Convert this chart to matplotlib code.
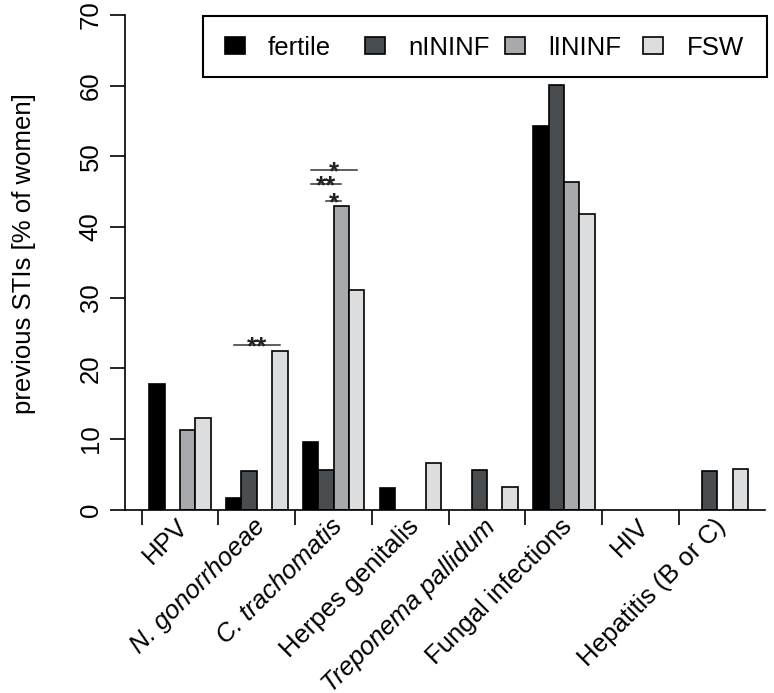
import matplotlib.pyplot as plt
from matplotlib.patches import Rectangle

plt.rcParams['font.family'] = ['Liberation Sans', 'DejaVu Sans']

categories = ["HPV", "N. gonorrhoeae", "C. trachomatis", "Herpes genitalis",
              "Treponema pallidum", "Fungal infections", "HIV", "Hepatitis (B or C)"]
italic_cats = ["N. gonorrhoeae", "C. trachomatis", "Treponema pallidum"]

groups = ["fertile", "nININF", "lININF", "FSW"]
colors = ["#000000", "#4a4d50", "#a7a9ac", "#dcdddf"]

fertile = [17.8, 1.6, 9.5, 3.1, 0.0, 54.3, 0.0, 0.0]
nININF = [0.0, 5.4, 5.6, 0.0, 5.6, 60.1, 0.0, 5.5]
lININF = [11.2, 0.0, 43.0, 0.0, 0.0, 46.3, 0.0, 0.0]
FSW = [12.9, 22.5, 31.1, 6.6, 3.2, 41.9, 0.0, 5.8]
values = [fertile, nININF, lININF, FSW]

# significance brackets: (category index, from group, to group, height, label)
brackets = [
    (1, 0, 3, 23.3, "**"),
    (2, 0, 3, 48.1, "*"),
    (2, 0, 2, 46.1, "**"),
    (2, 1, 2, 43.7, "*"),
]

W, H = 774, 693
fig = plt.figure(figsize=(W / 100, H / 100), dpi=100)
ax = fig.add_axes([125 / W, 1 - 509.5 / H, 640 / W, 494.5 / H])

fs = 18.5
lw = 1.2

def bar_x(ci, gi):
    return 5 * ci + 1 + gi + 0.5

for gi, (name, col) in enumerate(zip(groups, colors)):
    xs = [bar_x(ci, gi) for ci in range(len(categories))]
    vals = values[gi]
    xs_nz = [x for x, v in zip(xs, vals) if v > 0]
    v_nz = [v for v in vals if v > 0]
    ax.bar(xs_nz, v_nz, width=1.0, color=col, edgecolor="black", linewidth=lw, zorder=2)

ax.set_xlim(-0.586, 41.1)
ax.set_ylim(0, 70)

for s in ["top", "right"]:
    ax.spines[s].set_visible(False)
ax.spines["left"].set_linewidth(lw)
ax.spines["bottom"].set_linewidth(lw)
ax.spines["bottom"].set_zorder(3)

ax.set_xticks([5 * ci + 0.5 for ci in range(len(categories))])
ax.set_xticklabels([])
ax.tick_params(axis="x", length=11, width=lw, direction="out")
ax.set_yticks(range(0, 71, 10))
ax.set_yticklabels([str(v) for v in range(0, 71, 10)], rotation=90, va="center", fontsize=fs)
ax.tick_params(axis="y", length=11, width=lw, direction="out", pad=5)

for ci, cat in enumerate(categories):
    style = "italic" if cat in italic_cats else "normal"
    ax.text(5 * ci + 3 + 0.3, -1.9, cat, rotation=45, rotation_mode="anchor",
            ha="right", va="center", fontsize=fs, style=style, clip_on=False)

for ci, g1, g2, y, lab in brackets:
    x1, x2 = bar_x(ci, g1), bar_x(ci, g2)
    ax.plot([x1, x2], [y, y], color="#333333", lw=1.1, zorder=3)
    ax.text((x1 + x2) / 2, y - 1.3, lab, ha="center", va="baseline", fontsize=fs,
            fontweight="bold", color="#222222")

fig.text(24 / W, 1 - 253.5 / H, "previous STIs [% of women]", rotation=90,
         ha="center", va="center", fontsize=fs)

# legend box drawn in pixel coords
lax = fig.add_axes([0, 0, 1, 1])
lax.set_xlim(0, W)
lax.set_ylim(H, 0)
lax.axis("off")
lax.add_patch(Rectangle((202.5, 16), 564.5, 60.5, fill=False, edgecolor="black", linewidth=1.5))
for i, (name, col) in enumerate(zip(groups, colors)):
    sx = [225, 365, 505, 643][i]
    tx = [268, 408, 548, 687][i]
    lax.add_patch(Rectangle((sx, 37.3), 20, 16.7, facecolor=col, edgecolor="black", linewidth=lw))
    lax.text(tx, 54.7, name, ha="left", va="baseline", fontsize=fs)

fig.savefig("out.png", dpi=100)
